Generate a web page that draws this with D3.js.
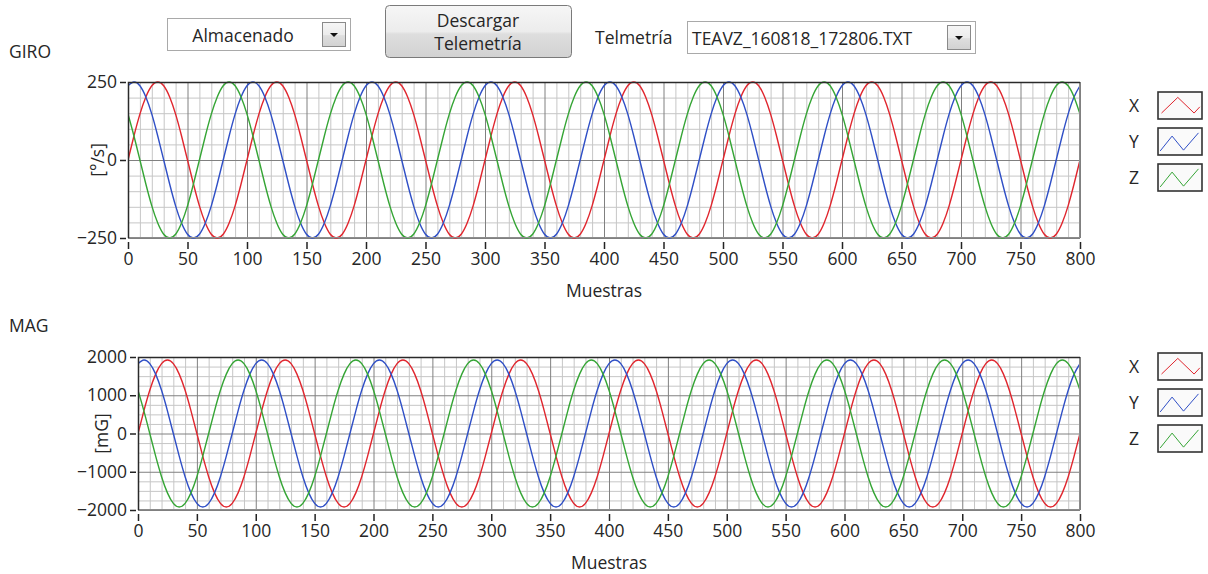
<!DOCTYPE html>
<html>
<head>
<meta charset="utf-8">
<script src="https://cdn.jsdelivr.net/npm/d3@7"></script>
<style>
  html, body { margin: 0; padding: 0; background: #ffffff; }
  svg { display: block; }
  text { font-family: "Open Sans", "Noto Sans", sans-serif; fill: #262626; }
</style>
</head>
<body>
<svg id="chart" width="1208" height="574"></svg>
<script>
// ---------------- DATA (one value every 5 samples) ----------------
const sampleStep = 5;
const xTicks = [0, 50, 100, 150, 200, 250, 300, 350, 400, 450, 500, 550, 600, 650, 700, 750, 800];
const giroTicks = [-250, 0, 250];
const magTicks = [-2000, -1000, 0, 1000, 2000];
const seriesNames = ["X", "Y", "Z"];
const seriesColors = ["#e0262e", "#2f4fc6", "#35a535"];

const giroX = [
  0, 77, 147, 202, 238, 250, 238, 202, 147, 77, 0, -77, -147, -202, -238, -250, -238, -202, -147, -77,
  0, 77, 147, 202, 238, 250, 238, 202, 147, 77, 0, -77, -147, -202, -238, -250, -238, -202, -147, -77,
  0, 77, 147, 202, 238, 250, 238, 202, 147, 77, 0, -77, -147, -202, -238, -250, -238, -202, -147, -77,
  0, 77, 147, 202, 238, 250, 238, 202, 147, 77, 0, -77, -147, -202, -238, -250, -238, -202, -147, -77,
  0, 77, 147, 202, 238, 250, 238, 202, 147, 77, 0, -77, -147, -202, -238, -250, -238, -202, -147, -77,
  0, 77, 147, 202, 238, 250, 238, 202, 147, 77, 0, -77, -147, -202, -238, -250, -238, -202, -147, -77,
  0, 77, 147, 202, 238, 250, 238, 202, 147, 77, 0, -77, -147, -202, -238, -250, -238, -202, -147, -77,
  0, 77, 147, 202, 238, 250, 238, 202, 147, 77, 0, -77, -147, -202, -238, -250, -238, -202, -147, -77,
  0
];
const giroY = [
  238, 250, 238, 202, 147, 77, 0, -77, -147, -202, -238, -250, -238, -202, -147, -77, 0, 77, 147, 202,
  238, 250, 238, 202, 147, 77, 0, -77, -147, -202, -238, -250, -238, -202, -147, -77, 0, 77, 147, 202,
  238, 250, 238, 202, 147, 77, 0, -77, -147, -202, -238, -250, -238, -202, -147, -77, 0, 77, 147, 202,
  238, 250, 238, 202, 147, 77, 0, -77, -147, -202, -238, -250, -238, -202, -147, -77, 0, 77, 147, 202,
  238, 250, 238, 202, 147, 77, 0, -77, -147, -202, -238, -250, -238, -202, -147, -77, 0, 77, 147, 202,
  238, 250, 238, 202, 147, 77, 0, -77, -147, -202, -238, -250, -238, -202, -147, -77, 0, 77, 147, 202,
  238, 250, 238, 202, 147, 77, 0, -77, -147, -202, -238, -250, -238, -202, -147, -77, 0, 77, 147, 202,
  238, 250, 238, 202, 147, 77, 0, -77, -147, -202, -238, -250, -238, -202, -147, -77, 0, 77, 147, 202,
  238
];
const giroZ = [
  147, 77, 0, -77, -147, -202, -238, -250, -238, -202, -147, -77, 0, 77, 147, 202, 238, 250, 238, 202,
  147, 77, 0, -77, -147, -202, -238, -250, -238, -202, -147, -77, 0, 77, 147, 202, 238, 250, 238, 202,
  147, 77, 0, -77, -147, -202, -238, -250, -238, -202, -147, -77, 0, 77, 147, 202, 238, 250, 238, 202,
  147, 77, 0, -77, -147, -202, -238, -250, -238, -202, -147, -77, 0, 77, 147, 202, 238, 250, 238, 202,
  147, 77, 0, -77, -147, -202, -238, -250, -238, -202, -147, -77, 0, 77, 147, 202, 238, 250, 238, 202,
  147, 77, 0, -77, -147, -202, -238, -250, -238, -202, -147, -77, 0, 77, 147, 202, 238, 250, 238, 202,
  147, 77, 0, -77, -147, -202, -238, -250, -238, -202, -147, -77, 0, 77, 147, 202, 238, 250, 238, 202,
  147, 77, 0, -77, -147, -202, -238, -250, -238, -202, -147, -77, 0, 77, 147, 202, 238, 250, 238, 202,
  147
];
const magX = [
  0, 593, 1129, 1553, 1826, 1920, 1826, 1553, 1129, 593, 0, -593, -1129, -1553, -1826, -1920, -1826, -1553, -1129, -593,
  0, 593, 1129, 1553, 1826, 1920, 1826, 1553, 1129, 593, 0, -593, -1129, -1553, -1826, -1920, -1826, -1553, -1129, -593,
  0, 593, 1129, 1553, 1826, 1920, 1826, 1553, 1129, 593, 0, -593, -1129, -1553, -1826, -1920, -1826, -1553, -1129, -593,
  0, 593, 1129, 1553, 1826, 1920, 1826, 1553, 1129, 593, 0, -593, -1129, -1553, -1826, -1920, -1826, -1553, -1129, -593,
  0, 593, 1129, 1553, 1826, 1920, 1826, 1553, 1129, 593, 0, -593, -1129, -1553, -1826, -1920, -1826, -1553, -1129, -593,
  0, 593, 1129, 1553, 1826, 1920, 1826, 1553, 1129, 593, 0, -593, -1129, -1553, -1826, -1920, -1826, -1553, -1129, -593,
  0, 593, 1129, 1553, 1826, 1920, 1826, 1553, 1129, 593, 0, -593, -1129, -1553, -1826, -1920, -1826, -1553, -1129, -593,
  0, 593, 1129, 1553, 1826, 1920, 1826, 1553, 1129, 593, 0, -593, -1129, -1553, -1826, -1920, -1826, -1553, -1129, -593,
  0
];
const magY = [
  1826, 1920, 1826, 1553, 1129, 593, 0, -593, -1129, -1553, -1826, -1920, -1826, -1553, -1129, -593, 0, 593, 1129, 1553,
  1826, 1920, 1826, 1553, 1129, 593, 0, -593, -1129, -1553, -1826, -1920, -1826, -1553, -1129, -593, 0, 593, 1129, 1553,
  1826, 1920, 1826, 1553, 1129, 593, 0, -593, -1129, -1553, -1826, -1920, -1826, -1553, -1129, -593, 0, 593, 1129, 1553,
  1826, 1920, 1826, 1553, 1129, 593, 0, -593, -1129, -1553, -1826, -1920, -1826, -1553, -1129, -593, 0, 593, 1129, 1553,
  1826, 1920, 1826, 1553, 1129, 593, 0, -593, -1129, -1553, -1826, -1920, -1826, -1553, -1129, -593, 0, 593, 1129, 1553,
  1826, 1920, 1826, 1553, 1129, 593, 0, -593, -1129, -1553, -1826, -1920, -1826, -1553, -1129, -593, 0, 593, 1129, 1553,
  1826, 1920, 1826, 1553, 1129, 593, 0, -593, -1129, -1553, -1826, -1920, -1826, -1553, -1129, -593, 0, 593, 1129, 1553,
  1826, 1920, 1826, 1553, 1129, 593, 0, -593, -1129, -1553, -1826, -1920, -1826, -1553, -1129, -593, 0, 593, 1129, 1553,
  1826
];
const magZ = [
  1129, 593, 0, -593, -1129, -1553, -1826, -1920, -1826, -1553, -1129, -593, 0, 593, 1129, 1553, 1826, 1920, 1826, 1553,
  1129, 593, 0, -593, -1129, -1553, -1826, -1920, -1826, -1553, -1129, -593, 0, 593, 1129, 1553, 1826, 1920, 1826, 1553,
  1129, 593, 0, -593, -1129, -1553, -1826, -1920, -1826, -1553, -1129, -593, 0, 593, 1129, 1553, 1826, 1920, 1826, 1553,
  1129, 593, 0, -593, -1129, -1553, -1826, -1920, -1826, -1553, -1129, -593, 0, 593, 1129, 1553, 1826, 1920, 1826, 1553,
  1129, 593, 0, -593, -1129, -1553, -1826, -1920, -1826, -1553, -1129, -593, 0, 593, 1129, 1553, 1826, 1920, 1826, 1553,
  1129, 593, 0, -593, -1129, -1553, -1826, -1920, -1826, -1553, -1129, -593, 0, 593, 1129, 1553, 1826, 1920, 1826, 1553,
  1129, 593, 0, -593, -1129, -1553, -1826, -1920, -1826, -1553, -1129, -593, 0, 593, 1129, 1553, 1826, 1920, 1826, 1553,
  1129, 593, 0, -593, -1129, -1553, -1826, -1920, -1826, -1553, -1129, -593, 0, 593, 1129, 1553, 1826, 1920, 1826, 1553,
  1129
];

// ---------------- DRAWING ----------------
const FS = "17.5px";
const svg = d3.select("#chart");
const defs = svg.append("defs");
const btnGrad = defs.append("linearGradient").attr("id", "btnGrad").attr("x1", 0).attr("y1", 0).attr("x2", 0).attr("y2", 1);
btnGrad.append("stop").attr("offset", "0%").attr("stop-color", "#f6f6f6");
btnGrad.append("stop").attr("offset", "50%").attr("stop-color", "#ececec");
btnGrad.append("stop").attr("offset", "55%").attr("stop-color", "#dedede");
btnGrad.append("stop").attr("offset", "100%").attr("stop-color", "#d2d2d2");

// --- top controls ---
function comboBox(x, y, w, h) {
  const g = svg.append("g").attr("transform", `translate(${x},${y})`);
  g.append("rect").attr("x", 0.5).attr("y", 0.5).attr("width", w).attr("height", h)
    .attr("fill", "#ffffff").attr("stroke", "#a9a9a9");
  g.append("rect").attr("x", w - 27.5).attr("y", 4.5).attr("width", 23).attr("height", h - 8)
    .attr("fill", "url(#btnGrad)").attr("stroke", "#8a8a8a");
  const cx = w - 16, cy = h / 2 + 1;
  g.append("path").attr("d", `M${cx - 4},${cy - 2}L${cx + 4},${cy - 2}L${cx},${cy + 2}Z`).attr("fill", "#111");
  return g;
}
const c1 = comboBox(167, 18, 183, 32);
c1.append("text").attr("x", 76).attr("y", 17).attr("text-anchor", "middle").attr("dominant-baseline", "central")
  .style("font-size", FS).text("Almacenado");

const btn = svg.append("g").attr("transform", "translate(385,5)");
btn.append("rect").attr("x", 0.5).attr("y", 0.5).attr("width", 186).attr("height", 52).attr("rx", 4)
  .attr("fill", "url(#btnGrad)").attr("stroke", "#7a7a7a");
btn.append("text").attr("x", 93).attr("y", 15).attr("text-anchor", "middle").attr("dominant-baseline", "central")
  .style("font-size", FS).text("Descargar");
btn.append("text").attr("x", 93).attr("y", 38).attr("text-anchor", "middle").attr("dominant-baseline", "central")
  .style("font-size", FS).text("Telemetría");

svg.append("text").attr("x", 595).attr("y", 37).attr("dominant-baseline", "central")
  .style("font-size", FS).text("Telmetría");
const c2 = comboBox(687, 21, 288, 32);
c2.append("text").attr("x", 5).attr("y", 17).attr("dominant-baseline", "central")
  .style("font-size", FS).text("TEAVZ_160818_172806.TXT");

// --- chart builder ---
function drawChart(cfg) {
  const { title, titleY, left, right, top, bottom, yDomain, yTicks, yMinorStep, yTitle, yTitleX, series, legendY } = cfg;
  const x = d3.scaleLinear().domain([0, 800]).range([left, right]);
  const y = d3.scaleLinear().domain(yDomain).range([bottom, top]);
  const g = svg.append("g");

  svg.append("text").attr("x", 9).attr("y", titleY).attr("dominant-baseline", "central")
    .style("font-size", FS).text(title);

  g.append("rect").attr("x", left).attr("y", top).attr("width", right - left).attr("height", bottom - top)
    .attr("fill", "#ffffff");

  // minor grid
  const xMinor = d3.range(0, 801, 10).filter(v => v % 50 !== 0);
  const yMinor = d3.range(yDomain[0], yDomain[1] + 1, yMinorStep).filter(v => !yTicks.includes(v));
  g.append("g").attr("transform", `translate(0,${bottom})`)
    .call(d3.axisBottom(x).tickValues(xMinor).tickSize(-(bottom - top)).tickFormat(""))
    .call(a => a.select(".domain").remove())
    .call(a => a.selectAll("line").attr("stroke", "#c6c6c6").attr("stroke-width", 1));
  g.append("g").attr("transform", `translate(${left},0)`)
    .call(d3.axisLeft(y).tickValues(yMinor).tickSize(-(right - left)).tickFormat(""))
    .call(a => a.select(".domain").remove())
    .call(a => a.selectAll("line").attr("stroke", "#c6c6c6").attr("stroke-width", 1));
  // major grid
  g.append("g").attr("transform", `translate(0,${bottom})`)
    .call(d3.axisBottom(x).tickValues(xTicks).tickSize(-(bottom - top)).tickFormat(""))
    .call(a => a.select(".domain").remove())
    .call(a => a.selectAll("line").attr("stroke", "#808080").attr("stroke-width", 1));
  g.append("g").attr("transform", `translate(${left},0)`)
    .call(d3.axisLeft(y).tickValues(yTicks).tickSize(-(right - left)).tickFormat(""))
    .call(a => a.select(".domain").remove())
    .call(a => a.selectAll("line").attr("stroke", "#808080").attr("stroke-width", 1));

  // lines
  const line = d3.line().x((d, i) => x(i * sampleStep)).y(d => y(d)).curve(d3.curveNatural);
  const clipId = "clip" + title;
  defs.append("clipPath").attr("id", clipId).append("rect")
    .attr("x", left).attr("y", top - 1).attr("width", right - left).attr("height", bottom - top + 2);
  const lg = g.append("g").attr("clip-path", `url(#${clipId})`);
  series.forEach((s, k) => {
    lg.append("path").datum(s).attr("d", line).attr("fill", "none")
      .attr("stroke", seriesColors[k]).attr("stroke-width", 1.4);
  });

  // frame
  g.append("rect").attr("x", left + 0.5).attr("y", top + 0.5).attr("width", right - left - 1).attr("height", bottom - top - 1)
    .attr("fill", "none").attr("stroke", "#8c8c8c");
  g.append("path").attr("d", `M${left + 0.5},${bottom}V${top + 0.5}H${right}`).attr("fill", "none")
    .attr("stroke", "#2a2a2a").attr("stroke-width", 1.5);

  // x axis
  const xa = g.append("g").attr("transform", `translate(0,${bottom + 4})`)
    .call(d3.axisBottom(x).tickValues(xTicks).tickSize(7).tickPadding(4).tickFormat(d3.format("d")));
  xa.select(".domain").remove();
  xa.selectAll("line").attr("stroke", "#222").attr("stroke-width", 1.5);
  xa.selectAll("text").style("font-size", FS).attr("fill", "#262626").attr("font-family", null);

  // y axis
  const ya = g.append("g").attr("transform", `translate(${left - 2},0)`)
    .call(d3.axisLeft(y).tickValues(yTicks).tickSize(6).tickPadding(3).tickFormat(d3.format("d")));
  ya.select(".domain").remove();
  ya.selectAll("line").attr("stroke", "#222").attr("stroke-width", 1.5);
  ya.selectAll("text").style("font-size", FS).attr("fill", "#262626").attr("font-family", null);

  // titles
  g.append("text").attr("x", (left + right) / 2).attr("y", bottom + 52).attr("text-anchor", "middle")
    .attr("dominant-baseline", "central").style("font-size", FS).text("Muestras");
  g.append("text").attr("transform", `translate(${yTitleX},${(top + bottom) / 2}) rotate(-90)`)
    .attr("text-anchor", "middle").attr("dominant-baseline", "central").style("font-size", FS).text(yTitle);

  // legend
  const legendShapes = [
    [[0.08, 0.78], [0.45, 0.2], [0.82, 0.78], [0.95, 0.55]],
    [[0.05, 0.85], [0.32, 0.3], [0.58, 0.82], [0.92, 0.18]],
    [[0.05, 0.85], [0.32, 0.3], [0.58, 0.82], [0.92, 0.18]]
  ];
  const lx = d3.scaleLinear().domain([0, 1]).range([0, 44]);
  const ly = d3.scaleLinear().domain([0, 1]).range([0, 27]);
  seriesNames.forEach((n, k) => {
    const cy = legendY + k * 36;
    const lgG = svg.append("g").attr("transform", `translate(1158,${cy - 13})`);
    lgG.append("rect").attr("x", 0).attr("y", 0).attr("width", 44).attr("height", 27)
      .attr("fill", "#fafafa").attr("stroke", "#333").attr("stroke-width", 1.6);
    lgG.append("path").datum(legendShapes[k]).attr("d", d3.line().x(d => lx(d[0])).y(d => ly(d[1])))
      .attr("fill", "none").attr("stroke", seriesColors[k]).attr("stroke-width", 1);
    svg.append("text").attr("x", 1134).attr("y", cy).attr("text-anchor", "middle").attr("dominant-baseline", "central")
      .style("font-size", FS).text(n);
  });
}

drawChart({
  title: "GIRO", titleY: 51, left: 128, right: 1080, top: 82, bottom: 238,
  yDomain: [-250, 250], yTicks: giroTicks, yMinorStep: 50, yTitle: "[°/s]", yTitleX: 97,
  series: [giroX, giroY, giroZ], legendY: 105
});
drawChart({
  title: "MAG", titleY: 325, left: 138, right: 1080, top: 357, bottom: 510,
  yDomain: [-2000, 2000], yTicks: magTicks, yMinorStep: 250, yTitle: "[mG]", yTitleX: 101,
  series: [magX, magY, magZ], legendY: 366
});
</script>
</body>
</html>
